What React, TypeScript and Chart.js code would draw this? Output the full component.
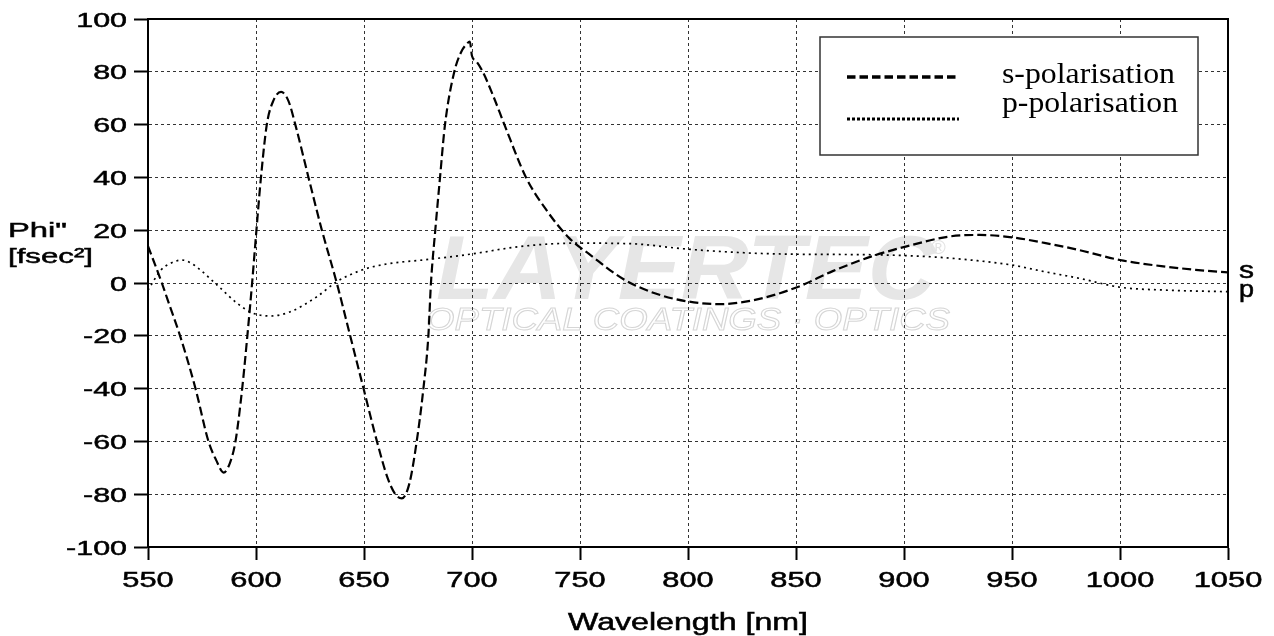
import React, { useEffect, useRef } from "react";
import { Chart, registerables } from "chart.js";

Chart.register(...registerables);

// ---- data ----
const wavelengthS = [
  550, 556.4, 560, 565, 572, 578, 581.5, 585, 588, 590.5, 593.6, 596, 598.2, 600.2, 602.3, 605, 608, 611.6,
  615, 618.2, 624.3, 630.5, 637.4, 643.6, 649.8, 656, 661, 664.5, 667.5, 671, 674.4, 677.5, 679.8, 681,
  683, 685.2, 687.5, 691.8, 695, 697.5, 699, 700, 702, 705, 710, 715, 725, 735, 745, 755, 770, 785, 800, 814.5,
  830.5, 850.5, 867, 884.7, 900.8, 921, 935, 950, 965, 981, 1000, 1021, 1035, 1050,
];
const phiS = [
  14, 0, -8.5, -20.4, -40, -60, -67, -71.8, -68, -60, -40, -20, 0, 20, 40, 60, 69, 72.4,
  69, 60, 40, 20, 0, -20, -40, -60, -74, -80, -81.6, -76, -60, -40, -20, 0,
  20, 40, 60, 80, 87.5, 90.5, 91.4, 86, 84, 80, 70.5, 60, 40, 27, 17, 10.5, 1.5, -4, -7, -8,
  -6.5, -1.6, 4.5, 10, 13.8, 17.6, 18.2, 17.3, 15.2, 12.5, 8.7, 6.2, 5, 4,
];

const wavelengthP = [
  550, 556, 560, 565.9, 570, 574.3, 582.8, 591.3, 598.2, 606.6, 615.9, 628.2, 637.4, 649, 659, 680.5, 700,
  722, 748, 773, 800, 830, 850, 885, 911, 931, 950, 965, 981, 1000, 1021, 1050,
];
const phiP = [
  -2.7, 4.9, 7.3, 8.7, 7.5, 4.9, -1.4, -7.7, -11.3, -12.5, -10.9, -5.2, 0.5, 4.9, 7, 9, 11,
  13.8, 15.1, 14.9, 12.8, 11.3, 10.9, 10.7, 10, 8.7, 6.8, 4.3, 1.8, -1.6, -2.7, -3.3,
];

const xTicks = [550, 600, 650, 700, 750, 800, 850, 900, 950, 1000, 1050];
const yTicks = [-100, -80, -60, -40, -20, 0, 20, 40, 60, 80, 100];
const seriesLabels = ["s-polarisation", "p-polarisation"];
const endLabels = ["s", "p"];
const yTitleLines = ['Phi"', "[fsec²]"];
const xTitle = "Wavelength [nm]";
const watermarkMain = "LAYERTEC";
const watermarkSub = "OPTICAL COATINGS · OPTICS";

const SANS = '"Liberation Sans", Arial, sans-serif';
const SERIF = '"Liberation Serif", "Times New Roman", serif';

function stretchText(
  ctx: CanvasRenderingContext2D,
  text: string,
  x: number,
  y: number,
  sx: number,
  align: CanvasTextAlign,
  thicken = 0
) {
  ctx.save();
  ctx.translate(x, y);
  ctx.scale(sx, 1);
  ctx.textAlign = align;
  ctx.textBaseline = "alphabetic";
  ctx.fillText(text, 0, 0);
  if (thicken > 0) {
    ctx.lineWidth = thicken;
    ctx.strokeStyle = ctx.fillStyle as string;
    ctx.strokeText(text, 0, 0);
  }
  ctx.restore();
}

function fitText(
  ctx: CanvasRenderingContext2D,
  text: string,
  x: number,
  y: number,
  width: number,
  mode: "fill" | "stroke" | "bold" = "fill"
) {
  const w = ctx.measureText(text).width;
  const sx = width / w;
  ctx.save();
  ctx.translate(x, y);
  ctx.scale(sx, 1);
  ctx.textAlign = "left";
  ctx.textBaseline = "alphabetic";
  if (mode === "stroke") ctx.strokeText(text, 0, 0);
  else {
    ctx.fillText(text, 0, 0);
    if (mode === "bold") {
      ctx.lineWidth = 0.5;
      ctx.strokeStyle = ctx.fillStyle as string;
      ctx.strokeText(text, 0, 0);
    }
  }
  ctx.restore();
}

const decorPlugin = {
  id: "decor",
  beforeDraw(chart: any) {
    const ctx: CanvasRenderingContext2D = chart.ctx;
    ctx.save();
    ctx.fillStyle = "#fff";
    ctx.fillRect(0, 0, chart.width, chart.height);
    // watermark
    ctx.fillStyle = "#e6e6e6";
    ctx.font = `italic bold 90px ${SANS}`;
    fitText(ctx, watermarkMain, 436, 299, 500);
    ctx.font = `20px ${SANS}`;
    ctx.fillStyle = "#e2e2e2";
    ctx.fillText("®", 931, 254);
    ctx.strokeStyle = "#d6d6d6";
    ctx.lineWidth = 1;
    ctx.font = `italic 31px ${SANS}`;
    fitText(ctx, watermarkSub, 426, 330, 524, "stroke");
    ctx.restore();
  },
  afterDraw(chart: any) {
    const ctx: CanvasRenderingContext2D = chart.ctx;
    const { left, right, top, bottom } = chart.chartArea;
    const xs = chart.scales.x;
    const ys = chart.scales.y;
    ctx.save();
    // frame top/right
    ctx.strokeStyle = "#000";
    ctx.lineWidth = 2;
    ctx.setLineDash([]);
    ctx.beginPath();
    ctx.moveTo(left, top);
    ctx.lineTo(right, top);
    ctx.lineTo(right, bottom);
    ctx.stroke();

    // tick labels
    ctx.fillStyle = "#000";
    ctx.font = `22px ${SANS}`;
    xs.ticks.forEach((t: any) => {
      const px = xs.getPixelForValue(t.value);
      stretchText(ctx, String(t.value), px, bottom + 39.5, 1.4, "center", 0.5);
    });
    ctx.font = `21px ${SANS}`;
    ys.ticks.forEach((t: any) => {
      const py = ys.getPixelForValue(t.value);
      stretchText(ctx, String(t.value), left - 21, py + 7.5, 1.45, "right", 0.5);
    });

    // axis titles
    ctx.font = `23px ${SANS}`;
    fitText(ctx, xTitle, 568, 630, 240, "bold");
    ctx.font = `20.5px ${SANS}`;
    fitText(ctx, yTitleLines[0], 8, 237, 59, "bold");
    fitText(ctx, yTitleLines[1], 8, 263, 85, "bold");

    // end labels
    ctx.font = `23px ${SANS}`;
    const lastS = phiS[phiS.length - 1];
    const lastP = phiP[phiP.length - 1];
    fitText(ctx, endLabels[0], 1239, ys.getPixelForValue(lastS) + 5.5, 15, "bold");
    fitText(ctx, endLabels[1], 1239, ys.getPixelForValue(lastP) + 5, 15, "bold");

    // legend
    const bx = 820, by = 37, bw = 378, bh = 118;
    ctx.fillStyle = "#fff";
    ctx.fillRect(bx, by, bw, bh);
    ctx.strokeStyle = "#333";
    ctx.lineWidth = 1.5;
    ctx.strokeRect(bx, by, bw, bh);

    ctx.strokeStyle = "#000";
    ctx.lineWidth = 3.5;
    ctx.setLineDash([8.5, 4]);
    ctx.beginPath();
    ctx.moveTo(847, 77);
    ctx.lineTo(959, 77);
    ctx.stroke();
    ctx.lineWidth = 3;
    ctx.setLineDash([3, 2]);
    ctx.beginPath();
    ctx.moveTo(847, 119);
    ctx.lineTo(959, 119);
    ctx.stroke();
    ctx.setLineDash([]);

    ctx.fillStyle = "#000";
    ctx.font = `29px ${SERIF}`;
    fitText(ctx, seriesLabels[0], 1002, 83, 173);
    fitText(ctx, seriesLabels[1], 1002, 112, 176);
    ctx.restore();
  },
};

export default function App() {
  const ref = useRef<HTMLCanvasElement | null>(null);

  useEffect(() => {
    document.body.style.margin = "0";
    const canvas = ref.current;
    if (!canvas) return;
    const chart = new Chart(canvas, {
      type: "line",
      data: {
        datasets: [
          {
            label: seriesLabels[0],
            data: wavelengthS.map((x, i) => ({ x, y: phiS[i] })),
            borderColor: "#000",
            borderWidth: 2.2,
            borderDash: [9, 4],
            pointRadius: 0,
            cubicInterpolationMode: "monotone",
            fill: false,
          },
          {
            label: seriesLabels[1],
            data: wavelengthP.map((x, i) => ({ x, y: phiP[i] })),
            borderColor: "#000",
            borderWidth: 1.7,
            borderDash: [2, 4],
            pointRadius: 0,
            cubicInterpolationMode: "monotone",
            fill: false,
          },
        ],
      },
      options: {
        animation: false,
        responsive: false,
        maintainAspectRatio: false,
        layout: { padding: { top: 19, right: 46, left: 0, bottom: 0 } },
        plugins: { legend: { display: false }, tooltip: { enabled: false } },
        scales: {
          x: {
            type: "linear",
            min: xTicks[0],
            max: xTicks[xTicks.length - 1],
            afterBuildTicks: (s: any) => {
              s.ticks = xTicks.map((v) => ({ value: v }));
            },
            afterFit: (s: any) => {
              s.height = 89;
            },
            ticks: { display: false },
            grid: {
              color: "#333",
              lineWidth: 1,
              tickLength: 13,
              tickWidth: 2,
              tickColor: "#000",
            },
            border: { display: true, color: "#000", width: 2, dash: [3, 3] },
          },
          y: {
            type: "linear",
            min: yTicks[0],
            max: yTicks[yTicks.length - 1],
            afterBuildTicks: (s: any) => {
              s.ticks = yTicks.map((v) => ({ value: v }));
            },
            afterFit: (s: any) => {
              s.width = 148;
            },
            ticks: { display: false },
            grid: {
              color: "#333",
              lineWidth: 1,
              tickLength: 14,
              tickWidth: 2,
              tickColor: "#000",
            },
            border: { display: true, color: "#000", width: 2, dash: [3, 3] },
          },
        },
      },
      plugins: [decorPlugin],
    } as any);
    return () => chart.destroy();
  }, []);

  return (
    <div style={{ position: "fixed", left: 0, top: 0, width: 1274, height: 636, background: "#fff" }}>
      <canvas ref={ref} width={1274} height={636} style={{ width: 1274, height: 636 }} />
    </div>
  );
}
